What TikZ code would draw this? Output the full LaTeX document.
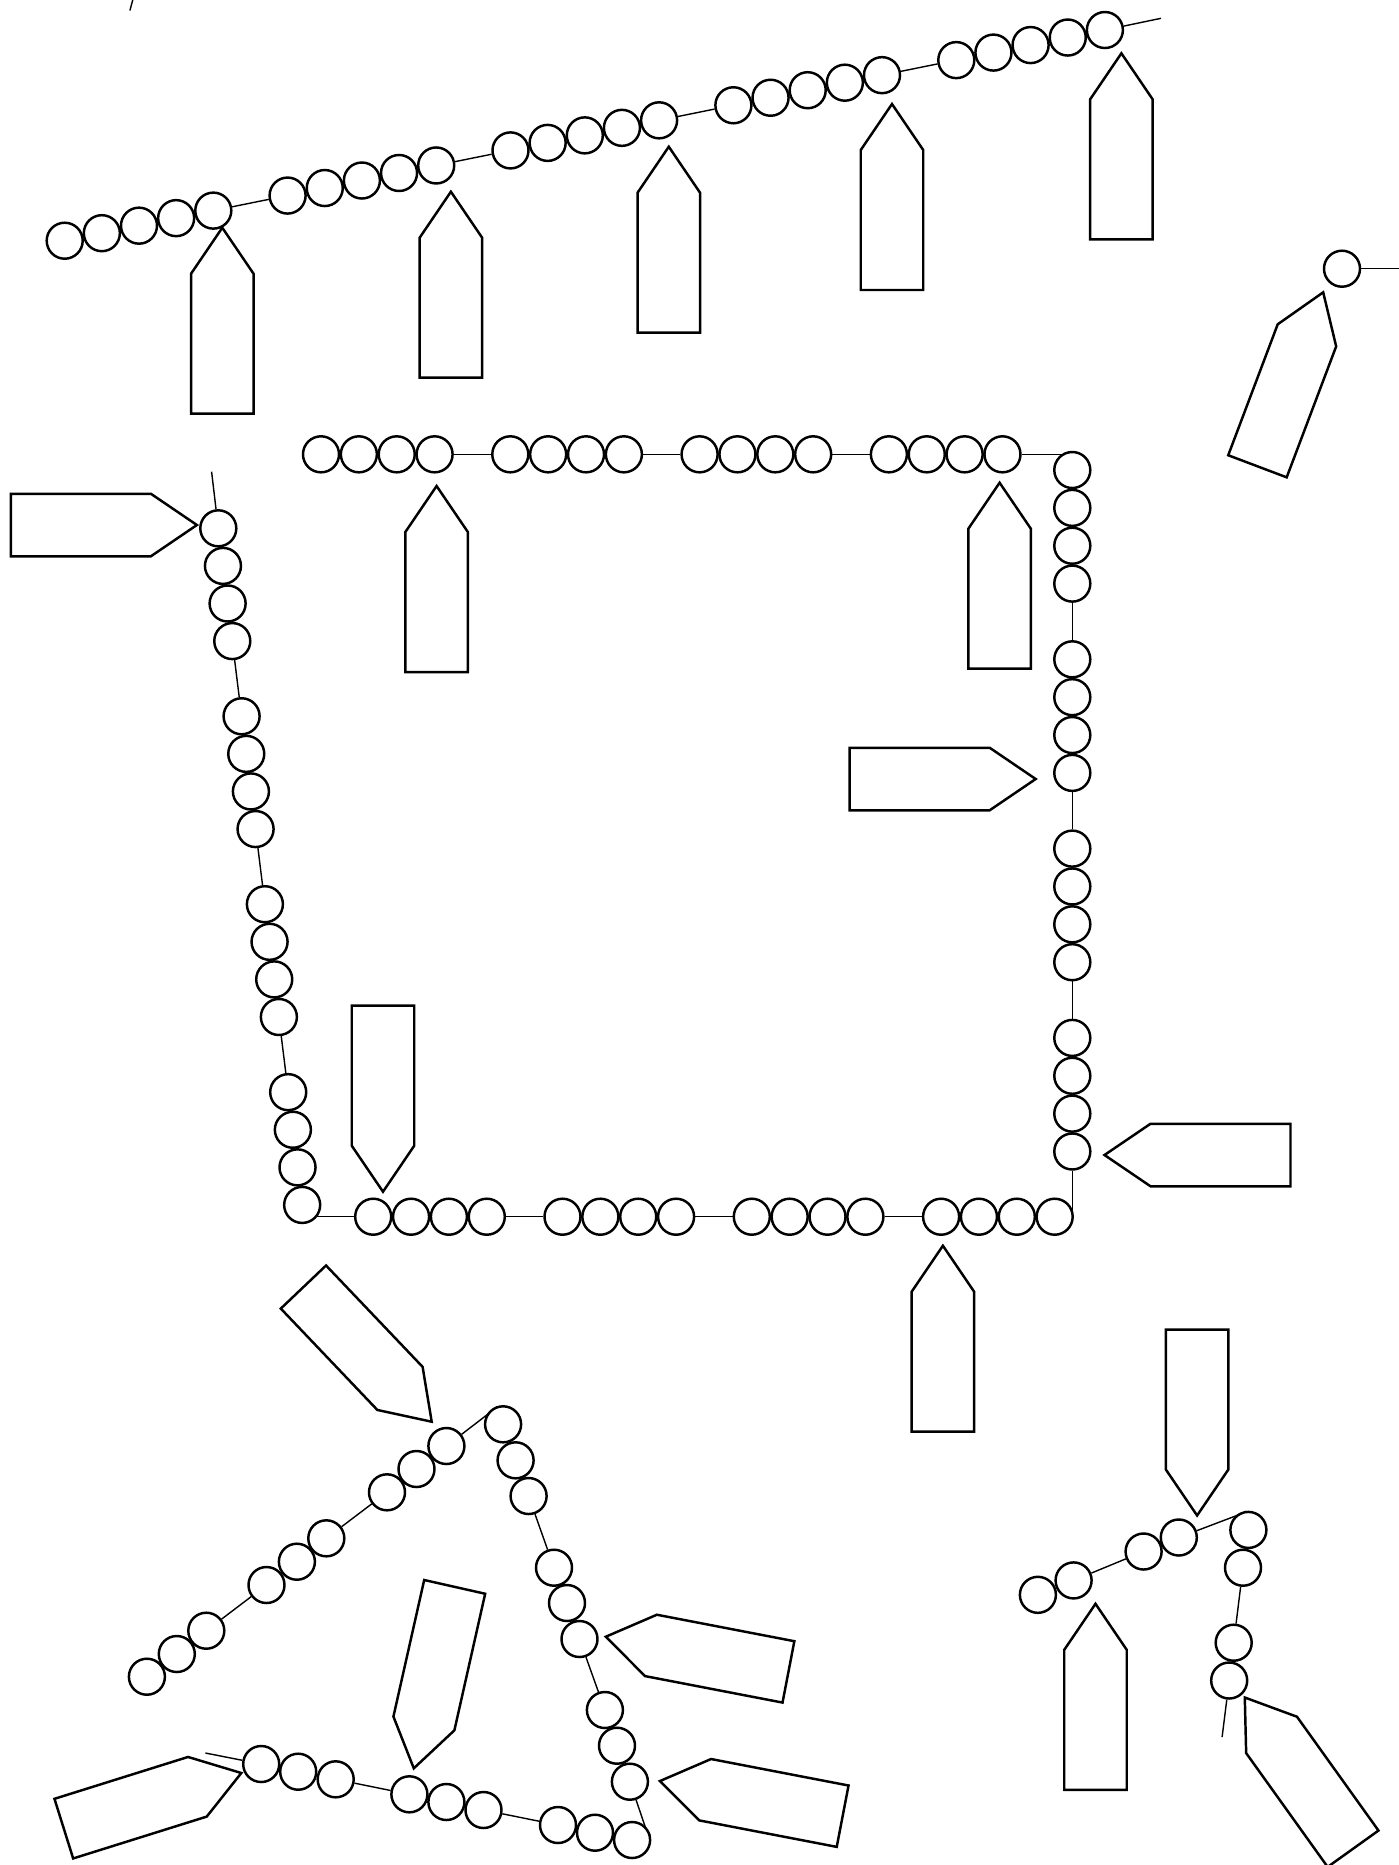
\documentclass[tikz,border=0pt]{standalone}
\usetikzlibrary{backgrounds}

\begin{document}
\begin{tikzpicture}[
    x=0.01cm, y=-0.01cm,
    line width=0.7pt,
    bead/.style={circle, draw, fill=white, inner sep=0pt,
                 minimum size=0.36cm},
    tagshape/.pic={
        \draw (0,0) -- (-31.25,46) -- (-31.25,186)
              -- (31.25,186) -- (31.25,46) -- cycle;},
]
\useasboundingbox (0,0) rectangle (1399,1865);

% top string
\foreach \g in {0,...,4}
  \foreach \k in {0,...,4}
    \node [bead] (a-\g-\k) at ({64.7+37.15*(6*\g+\k)}, {240.7-7.525*(6*\g+\k)}) {};
\coordinate (aend) at (1161,18.3);

% square
\foreach \g in {0,...,3}
  \foreach \k in {0,...,3} {
    \node [bead] (t-\g-\k) at ({321+37.86*(5*\g+\k)}, 454.3) {};
    \node [bead] (r-\g-\k) at (1072.3, {470+37.86*(5*\g+\k)}) {};
    \node [bead] (b-\g-\k) at ({373.2+37.86*(5*\g+\k)}, 1216.7) {};
    \node [bead] (l-\g-\k) at ({218.3+4.66*(5*\g+\k)}, {528.3+37.59*(5*\g+\k)}) {};
  }
\coordinate (lend) at (211.6,471.7);

% triangle
\foreach \x/\y [count=\i] in {146.9/1676.7, 176.8/1654, 206.3/1630.7,
    266.5/1585, 296.9/1561.7, 326.3/1538.3, 387/1492.3, 416.5/1469,
    446.4/1446, 503.1/1424.3, 515.6/1460.3, 528.6/1496, 554/1567.7,
    567/1603, 579.5/1639, 604.9/1710, 617/1745.7, 629.9/1781.7,
    632.1/1840, 595/1832.7, 558/1825, 483.5/1810, 446.4/1802,
    409.4/1794.3, 335.7/1779.3, 298.2/1771.7, 261.2/1764}
  \node [bead] (c\i) at (\x,\y) {};
\coordinate (ctop) at (496.8,1407.3);
\coordinate (cbot) at (648,1835);
\coordinate (cend) at (205.4,1753);

% small string, bottom right
\foreach \x/\y [count=\i] in {1037.9/1594.8, 1073.6/1580.4, 1143.6/1551.5,
    1178.8/1537.5, 1248.4/1529.9, 1243/1567.7, 1233.7/1642.7, 1229.2/1680.5}
  \node [bead] (d\i) at (\x,\y) {};
\coordinate (dtop) at (1246,1512);
\coordinate (dend) at (1222.1,1737.1);

\node [bead] (e) at (1342,268.7) {};
\coordinate (eend) at (1399,268.7);
\coordinate (s0) at (133.3,-2);
\coordinate (s1) at (129.9,10.5);

\begin{scope}[on background layer]
  \foreach \g [count=\h] in {0,...,3}
    \draw (a-\g-4) -- (a-\h-0);
  \draw (a-4-4) -- (aend);
  \foreach \g [count=\h] in {0,...,2} {
    \draw (t-\g-3) -- (t-\h-0);
    \draw (r-\g-3) -- (r-\h-0);
    \draw (b-\g-3) -- (b-\h-0);
    \draw (l-\g-3) -- (l-\h-0);
  }
  \draw (t-3-3) -- (t-3-3 -| r-0-0) -- (r-0-0);
  \draw (r-3-3) -- (r-3-3 |- b-3-3) -- (b-3-3);
  \draw (b-0-0) -- (l-3-3 |- b-0-0) -- (l-3-3);
  \draw (l-0-0) -- (lend);
  \foreach \i/\j in {3/4, 6/7, 12/13, 15/16, 21/22, 24/25}
    \draw (c\i) -- (c\j);
  \draw (c9) -- (ctop) -- (c10);
  \draw (c18) -- (cbot) -- (c19);
  \draw (c27) -- (cend);
  \draw (d2) -- (d3);
  \draw (d4) -- (dtop) -- (d5);
  \draw (d6) -- (d7);
  \draw (d8) -- (dend);
  \draw (e) -- (eend);
  \draw (s0) -- (s1);
\end{scope}

% tags: tip and turn
\foreach \x/\y/\a [count=\i] in {222.3/227.7/0, 450.9/191.7/0,
    668.8/146.7/0, 892/104/0, 1121.4/53.3/0, 1323.2/292.3/-20.7,
    196.9/525/-90, 436.6/486/0, 999.6/482.7/0, 1035.7/779/-90,
    1104.5/1155/90, 942.9/1245.7/0, 383/1191.7/180,
    431.7/1421.7/-136.4, 413.8/1768.3/167.3, 605.8/1636.7/79.1,
    660/1781/79.1, 241.3/1773/-72.6, 1197.1/1515.5/180,
    1095.5/1603.8/0, 1244.8/1697.5/35.6}
  \pic [rotate=\a] (tag\i) at (\x,\y) {tagshape};

\end{tikzpicture}
\end{document}
